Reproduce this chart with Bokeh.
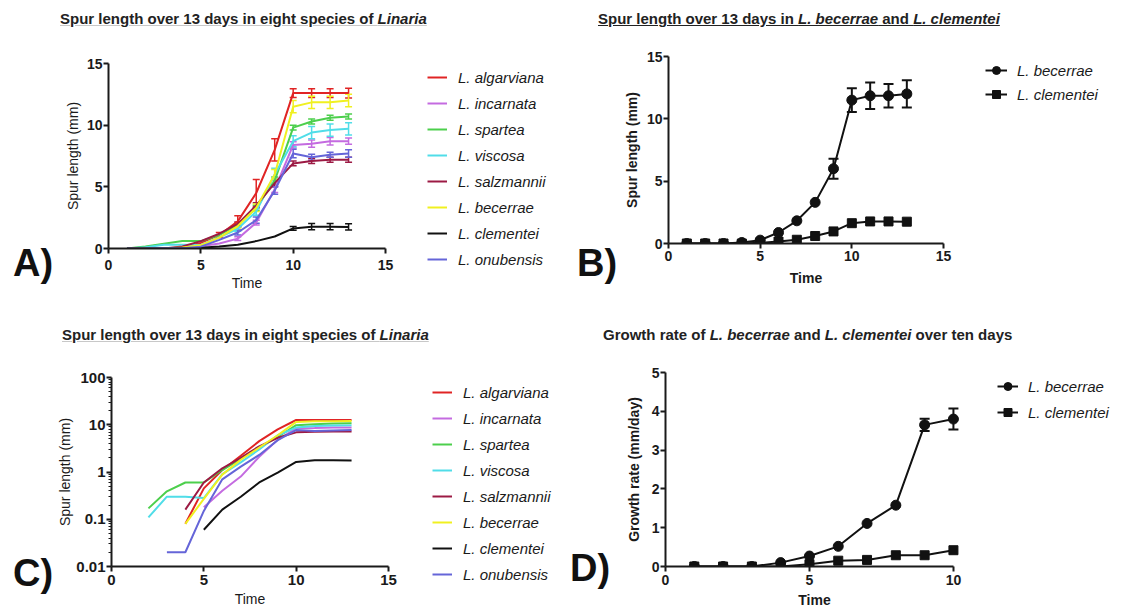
from bokeh.plotting import figure
from bokeh.models import (Range1d, FixedTicker, Legend, LegendItem, Div,
                          Whisker, TeeHead, ColumnDataSource)
from bokeh.layouts import column, row
from bokeh.embed import file_html
from bokeh.resources import INLINE

FONT = "Liberation Sans"
INK = "#1a1a1a"

# ---------------- data ----------------
days = [1, 2, 3, 4, 5, 6, 7, 8, 9, 10, 11, 12, 13]
species = ["L. algarviana", "L. incarnata", "L. spartea", "L. viscosa",
           "L. salzmannii", "L. becerrae", "L. clementei", "L. onubensis"]
colors = ["#e02424", "#c46be0", "#4ccf4c", "#50dde8",
          "#9c1a44", "#f0f020", "#111111", "#6565d8"]

algarviana = [0, 0, 0, 0.08, 0.45, 1.1, 2.2, 4.5, 8.0, 12.6, 12.6, 12.6, 12.6]
incarnata = [0, 0, 0, 0, 0.18, 0.4, 0.8, 2.1, 4.8, 8.4, 8.5, 8.7, 8.7]
spartea = [0, 0.17, 0.39, 0.6, 0.6, 1.1, 1.9, 3.3, 5.5, 9.8, 10.3, 10.6, 10.7]
viscosa = [0, 0.11, 0.3, 0.3, 0.28, 0.9, 1.6, 3.0, 6.0, 8.7, 9.4, 9.6, 9.7]
salzmannii = [0, 0, 0, 0.16, 0.6, 1.2, 2.0, 3.5, 5.3, 6.9, 7.1, 7.2, 7.2]
becerrae = [0, 0, 0, 0.08, 0.27, 0.88, 1.82, 3.3, 6.0, 11.5, 11.85, 11.85, 12.0]
clementei = [0, 0, 0, 0, 0.06, 0.16, 0.3, 0.6, 0.97, 1.63, 1.77, 1.77, 1.75]
onubensis = [0, 0, 0.02, 0.02, 0.15, 0.7, 1.3, 2.3, 4.7, 7.7, 7.4, 7.6, 7.7]

algarviana_err = [0, 0, 0, 0, 0, 0.2, 0.45, 1.1, 0.9, 0.35, 0.35, 0.35, 0.4]
incarnata_err = [0, 0, 0, 0, 0, 0, 0.15, 0.2, 0.25, 0.25, 0.3, 0.3, 0.25]
spartea_err = [0, 0, 0, 0, 0, 0, 0.15, 0.2, 0.3, 0.2, 0.2, 0.2, 0.2]
viscosa_err = [0, 0, 0, 0, 0, 0, 0.2, 0.3, 0.5, 0.45, 0.5, 0.5, 0.5]
salzmannii_err = [0, 0, 0, 0, 0, 0, 0.15, 0.2, 0.3, 0.2, 0.2, 0.2, 0.2]
becerrae_err = [0, 0, 0, 0, 0, 0, 0.15, 0.3, 0.4, 0.5, 0.5, 0.5, 0.5]
clementei_err = [0, 0, 0, 0, 0, 0, 0, 0, 0, 0.15, 0.25, 0.25, 0.25]
onubensis_err = [0, 0, 0, 0, 0, 0, 0.2, 0.25, 0.3, 0.35, 0.25, 0.2, 0.3]

series = [algarviana, incarnata, spartea, viscosa, salzmannii, becerrae, clementei, onubensis]
series_err = [algarviana_err, incarnata_err, spartea_err, viscosa_err,
              salzmannii_err, becerrae_err, clementei_err, onubensis_err]

# panel B error bars
becerrae_err_b = [0, 0, 0, 0, 0, 0, 0, 0, 0.8, 0.95, 1.07, 0.95, 1.1]

# panel D: growth rate
rate_days = [1, 2, 3, 4, 5, 6, 7, 8, 9, 10]
becerrae_rate = [0, 0, 0, 0.1, 0.27, 0.52, 1.11, 1.58, 3.65, 3.8]
becerrae_rate_err = [0, 0, 0, 0, 0, 0, 0, 0, 0.16, 0.27]
clementei_rate = [0, 0, 0, 0, 0.06, 0.15, 0.17, 0.29, 0.29, 0.42]

lin_ticks15 = [0, 5, 10, 15]
log_ticks = [0.01, 0.1, 1, 10, 100]
log_tick_labels = ["0.01", "0.1", "1", "10", "100"]

titleA = 'Spur length over 13 days in eight species of <i>Linaria</i>'
titleB = 'Spur length over 13 days in <i>L. becerrae</i> and <i>L. clementei</i>'
titleC = 'Spur length over 13 days in eight species of <i>Linaria</i>'
titleD = 'Growth rate of <i>L. becerrae</i> and <i>L. clementei</i> over ten days'


# ---------------- helpers ----------------
def make_fig(width, height, left, right, top, bottom, xr, yr, y_type="linear"):
    p = figure(width=width, height=height, x_range=xr, y_range=yr,
               y_axis_type=y_type, title=None, toolbar_location=None,
               output_backend="svg", min_border_left=left, min_border_right=right,
               min_border_top=top, min_border_bottom=bottom)
    p.grid.visible = False
    p.outline_line_color = None
    return p


def blank_fig(width, height):
    p = figure(width=width, height=height, x_range=Range1d(0, 1), y_range=Range1d(0, 1),
               title=None, toolbar_location=None, output_backend="svg",
               x_axis_location=None, y_axis_location=None,
               min_border_left=0, min_border_right=0, min_border_top=0,
               min_border_bottom=0)
    p.grid.visible = False
    p.outline_line_color = None
    return p


def style_axes(p, bold_labels, tick_size, xs, xd, ys, yd):
    for ax in (p.xaxis[0], p.yaxis[0]):
        ax.axis_line_width = 2
        ax.axis_line_color = INK
        ax.major_tick_line_width = 2
        ax.major_tick_line_color = INK
        ax.major_tick_out = 5
        ax.major_tick_in = 0
        ax.minor_tick_line_color = None
        ax.major_label_text_font = FONT
        ax.major_label_text_font_size = tick_size
        ax.major_label_text_font_style = "bold"
        ax.major_label_text_color = INK
        ax.axis_label_text_font = FONT
        ax.axis_label_text_font_size = "14px"
        ax.axis_label_text_font_style = "bold" if bold_labels else "normal"
        ax.axis_label_text_color = INK
    p.xaxis[0].major_label_standoff = xs
    p.xaxis[0].axis_label_standoff = xd
    p.yaxis[0].major_label_standoff = ys
    p.yaxis[0].axis_label_standoff = yd


def add_err(p, x, y, e, color, size, width):
    xs = [a for a, ee in zip(x, e) if ee > 0]
    lo = [b - ee for b, ee in zip(y, e) if ee > 0]
    hi = [b + ee for b, ee in zip(y, e) if ee > 0]
    src = ColumnDataSource(dict(base=xs, lower=lo, upper=hi))
    w = Whisker(source=src, base="base", lower="lower", upper="upper",
                line_color=color, line_width=width,
                upper_head=TeeHead(size=size, line_color=color, line_width=width),
                lower_head=TeeHead(size=size, line_color=color, line_width=width))
    p.add_layout(w)


def legend_block(width, height, gap, entries, x, spacing, gw, standoff, markers=None):
    lf = blank_fig(width, height)
    items = []
    for i, (name, col) in enumerate(entries):
        rs = [lf.line([-5, -4], [-5, -4], line_color=col, line_width=2)]
        if markers:
            m, s = markers[i]
            rs.append(lf.scatter([-5, -4], [-5, -4], marker=m, size=s, color=col))
        items.append(LegendItem(label=name, renderers=rs))
    n = len(entries)
    leg_h = n * 20 + (n - 1) * spacing
    lf.add_layout(Legend(items=items, location=(x, height - leg_h), orientation="vertical",
                         padding=0, margin=0, spacing=spacing, glyph_width=gw,
                         glyph_height=20, label_height=20, label_standoff=standoff,
                         label_text_font=FONT, label_text_font_size="15px",
                         label_text_font_style="italic", label_text_color=INK,
                         border_line_color=None, background_fill_alpha=0))
    spacer = Div(text="", width=width, height=gap, margin=(0, 0, 0, 0))
    return column(spacer, lf)


def label_div(text, width, height, left, top):
    style = (f"position:relative;left:{left}px;top:{top}px;font-family:'{FONT}';"
             f"font-size:38px;font-weight:bold;line-height:38px;color:#111;"
             f"white-space:nowrap;")
    return Div(text=f'<div style="{style}">{text}</div>', width=width,
               height=height, margin=(0, 0, 0, 0))


def title_div(html, width, height, left, top, underline=None):
    deco = ""
    if underline:
        deco = f"text-decoration:underline;text-decoration-color:{underline};"
    style = (f"position:relative;left:{left}px;top:{top}px;font-family:'{FONT}';"
             f"font-size:15px;font-weight:bold;color:#222;white-space:nowrap;"
             f"line-height:17px;{deco}")
    return Div(text=f'<div style="{style}">{html}</div>', width=width,
               height=height, margin=(0, 0, 0, 0))


# ---------------- panel A ----------------
pA = make_fig(340, 280, 48, 15, 27, 68, Range1d(0, 15), Range1d(0, 15))
style_axes(pA, False, "14px", 6, 2, 1, 3)
pA.xaxis.ticker = FixedTicker(ticks=lin_ticks15)
pA.yaxis.ticker = FixedTicker(ticks=lin_ticks15)
pA.xaxis.axis_label = "Time"
pA.yaxis.axis_label = "Spur length (mm)"
for col, ys, es in zip(colors, series, series_err):
    pA.line(days, ys, line_color=col, line_width=2)
    add_err(pA, days, ys, es, col, 7, 1.5)
legA = legend_block(160, 206, 31, list(zip(species, colors)), 27, 6, 20, 11)

# ---------------- panel B ----------------
pB = make_fig(338, 280, 44, 15, 20, 73, Range1d(0, 15), Range1d(0, 15))
style_axes(pB, True, "14px", 2, 6, 1, 4)
pB.xaxis.ticker = FixedTicker(ticks=lin_ticks15)
pB.yaxis.ticker = FixedTicker(ticks=lin_ticks15)
pB.xaxis.axis_label = "Time"
pB.yaxis.axis_label = "Spur length (mm)"
pB.line(days, becerrae, line_color="#111111", line_width=2)
pB.scatter(days, becerrae, marker="circle", size=10, color="#111111")
pB.line(days, clementei, line_color="#111111", line_width=2)
pB.scatter(days, clementei, marker="square", size=9, color="#111111")
add_err(pB, days, becerrae, becerrae_err_b, "#111111", 10, 2)
legB = legend_block(158, 48, 24, [("L. becerrae", "#111111"), ("L. clementei", "#111111")],
                    27, 4, 22, 10, markers=[("circle", 9), ("square", 8)])

# ---------------- panel C ----------------
pC = make_fig(349, 258, 56, 15, 25, 44, Range1d(0, 15), Range1d(0.01, 100), "log")
style_axes(pC, False, "15px", 3, 3, 1, 0)
pC.xaxis.ticker = FixedTicker(ticks=lin_ticks15)
minor = [k * 10.0 ** e for e in range(-2, 2) for k in range(2, 10)]
pC.yaxis.ticker = FixedTicker(ticks=log_ticks, minor_ticks=minor)
pC.yaxis.major_label_overrides = {t: s for t, s in zip(log_ticks, log_tick_labels)}
pC.yaxis.minor_tick_line_color = INK
pC.yaxis.minor_tick_out = 3
pC.yaxis.minor_tick_in = 0
pC.yaxis.minor_tick_line_width = 1
pC.xaxis.axis_label = "Time"
pC.yaxis.axis_label = "Spur length (mm)"
for col, ys in zip(colors, series):
    ylog = [v if v > 0 else float("nan") for v in ys]
    pC.line(days, ylog, line_color=col, line_width=2)
legC = legend_block(157, 206, 30, list(zip(species, colors)), 29, 6, 20, 11)

# ---------------- panel D ----------------
pD = make_fig(351, 258, 42, 10, 20, 44, Range1d(0, 10.35), Range1d(0, 5))
style_axes(pD, True, "14px", 3, 4, 1, 7)
pD.xaxis.bounds = (0, 10)
pD.xaxis.ticker = FixedTicker(ticks=[0, 5, 10])
pD.yaxis.ticker = FixedTicker(ticks=[0, 1, 2, 3, 4, 5])
pD.xaxis.axis_label = "Time"
pD.yaxis.axis_label = "Growth rate (mm/day)"
pD.line(rate_days, becerrae_rate, line_color="#111111", line_width=2)
pD.scatter(rate_days, becerrae_rate, marker="circle", size=10, color="#111111")
pD.line(rate_days, clementei_rate, line_color="#111111", line_width=2)
pD.scatter(rate_days, clementei_rate, marker="square", size=9, color="#111111")
add_err(pD, rate_days, becerrae_rate, becerrae_rate_err, "#111111", 10, 2)
legD = legend_block(143, 50, 24, [("L. becerrae", "#111111"), ("L. clementei", "#111111")],
                    24, 6, 21, 10, markers=[("circle", 9), ("square", 8)])

# ---------------- layout ----------------
dA = title_div(titleA, 560, 36, 60, 10, "#c8c8c8")
dB = title_div(titleB, 556, 36, 38, 10, "#222222")
dC = title_div(titleC, 560, 36, 62, 10, "#c8c8c8")
dD = title_div(titleD, 556, 36, 43, 10)

labA = label_div("A)", 60, 280, 13, 208)
labB = label_div("B)", 60, 280, 17, 208)
labC = label_div("C)", 54, 258, 13, 202)
labD = label_div("D)", 62, 258, 10, 197)

layout = column(
    row(column(dA, row(labA, pA, legA)), column(dB, row(labB, pB, legB))),
    row(column(dC, row(labC, pC, legC)), column(dD, row(labD, pD, legD))),
)

open("out.html", "w").write(file_html(layout, INLINE))
